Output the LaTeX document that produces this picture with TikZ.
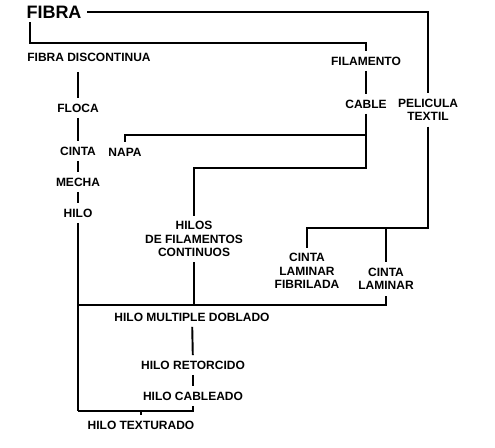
\documentclass[tikz,border=0pt]{standalone}
\usepackage{fontspec}
\setmainfont{Liberation Sans}
\begin{document}
\begin{tikzpicture}[x=0.75pt,y=-0.75pt,line width=1.45pt,
  lbl/.style={align=center,inner sep=3.5pt,font=\bfseries\fontsize{9}{10.2}\selectfont}]
\useasboundingbox (0,0) rectangle (495,447);
\node[lbl,font=\bfseries\fontsize{13.5}{15}\selectfont] (fibra) at (54,12) {FIBRA};
\node[lbl] (disc) at (89,57) {FIBRA DISCONTINUA};
\node[lbl] (filamento) at (366,61) {FILAMENTO};
\node[lbl] (cable) at (366,104) {CABLE};
\node[lbl] (pelicula) at (428,110) {PELICULA\\TEXTIL};
\node[lbl] (floca) at (78,108) {FLOCA};
\node[lbl] (cinta) at (78,151) {CINTA};
\node[lbl] (napa) at (125,152) {NAPA};
\node[lbl] (mecha) at (78,182) {MECHA};
\node[lbl] (hilo) at (78,213) {HILO};
\node[lbl] (hilos) at (194,239) {HILOS\\DE FILAMENTOS\\CONTINUOS};
\node[lbl] (fibrilada) at (307,271) {CINTA\\LAMINAR\\FIBRILADA};
\node[lbl] (laminar) at (386,279) {CINTA\\LAMINAR};
\node[lbl] (doblado) at (192,317) {HILO MULTIPLE DOBLADO};
\node[lbl] (retorcido) at (193,365) {HILO RETORCIDO};
\node[lbl] (cableado) at (193,396) {HILO CABLEADO};
\node[lbl] (texturado) at (141,425) {HILO TEXTURADO};
\coordinate (split) at (30,43);
\coordinate (pelcorner) at (428,12);
\coordinate (bus) at (78,305);
\coordinate (base) at (78,411);
% ramas principales
\draw (30,22) -- (split) -| (filamento);
\draw (fibra.east) -- (pelcorner) -- (pelicula);
\draw (pelicula) |- (laminar.north |- 0,228) -| (fibrilada);
\draw (laminar.north |- 0,228) -- (laminar);
% fibra discontinua
\draw (floca.north |- disc.south) ++(0,5) -- (floca);
\draw (floca) -- (cinta);
\draw (cinta) -- (mecha);
\draw (mecha) -- (hilo);
\draw (hilo) -- (base);
% filamento
\draw (filamento) -- (cable);
\draw (cable) |- (napa.north |- 0,135) -- (napa);
\draw (cable.south) -- (366,168) -| (hilos);
% hilo multiple doblado
\draw (bus) -| (laminar);
\draw (hilos) -- (hilos.south |- bus);
\draw (doblado) -- (retorcido);
\draw (retorcido) -- (cableado);
\draw (cableado) |- (base);
\draw (texturado.north |- base) -- (texturado);
\end{tikzpicture}
\end{document}
